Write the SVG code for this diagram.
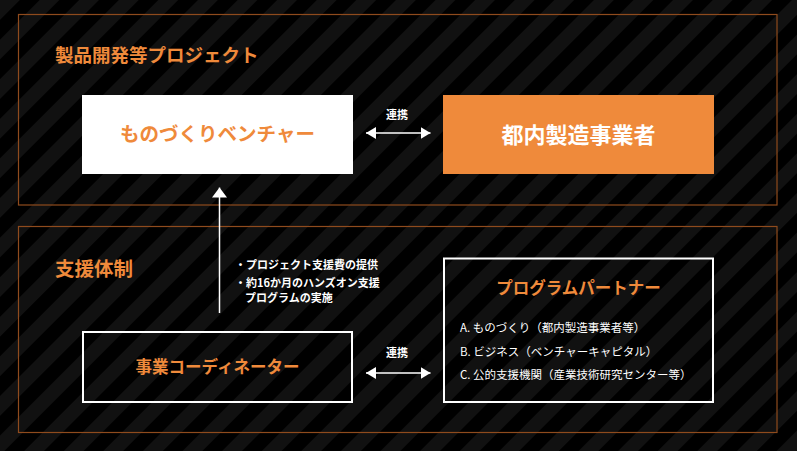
<svg xmlns="http://www.w3.org/2000/svg" width="797" height="451" viewBox="0 0 797 451">
<defs>
<pattern id="stripes" patternUnits="userSpaceOnUse" width="28" height="28" patternTransform="rotate(45)">
<rect x="0" y="0" width="14" height="28" fill="#111"/>
</pattern>
<marker id="ah" viewBox="0 0 10 12" refX="10" refY="6" markerWidth="10" markerHeight="12" markerUnits="userSpaceOnUse" orient="auto-start-reverse">
<path d="M0,0 L10,6 L0,12 Z" fill="#fff"/>
</marker>
<marker id="ahv" viewBox="0 0 10 15" refX="10" refY="7.5" markerWidth="10" markerHeight="15" markerUnits="userSpaceOnUse" orient="auto">
<path d="M0,0 L10,7.5 L0,15 Z" fill="#fff"/>
</marker>
</defs>
<style>
text{font-family:"Noto Sans CJK JP","Noto Sans",sans-serif;font-weight:700}
.frame{fill:none;stroke:#8f4b1d;stroke-width:1.2}
.og{fill:#ef8a3b}
.wt{fill:#fff}
.line{stroke:#fff;stroke-width:1.5;fill:none}
.box{fill:none;stroke:#fff;stroke-width:2}
.list{font-family:"Noto Sans CJK JP","Noto Sans",sans-serif;font-weight:400;font-size:11.5px;fill:#fff}
</style>
<rect width="797" height="451" fill="#000"/>
<rect width="797" height="451" fill="url(#stripes)"/>
<g id="frame-project">
<rect class="frame" x="18.5" y="14.5" width="758.5" height="190.5"/>
<text class="og" x="55" y="62" font-size="18.5">製品開発等プロジェクト</text>
</g>
<g id="frame-support">
<rect class="frame" x="18.5" y="226.5" width="758.5" height="206"/>
<text class="og" x="55" y="276" font-size="19.5">支援体制</text>
</g>
<g id="node-venture">
<rect x="82" y="95" width="271" height="79" fill="#fff"/>
<text class="og" x="217.5" y="141" font-size="19.5" text-anchor="middle">ものづくりベンチャー</text>
</g>
<g id="node-manufacturer">
<rect x="443" y="95" width="271" height="79" fill="#ef8a3b"/>
<text class="wt" x="578.5" y="142.5" font-size="22" text-anchor="middle">都内製造事業者</text>
</g>
<g id="node-coordinator">
<rect class="box" x="83" y="332" width="269" height="70"/>
<text class="og" x="217.5" y="372.5" font-size="16.5" text-anchor="middle">事業コーディネーター</text>
</g>
<g id="node-partner">
<rect class="box" x="444" y="258.5" width="269" height="143.5"/>
<text class="og" x="578.5" y="294" font-size="16.5" text-anchor="middle">プログラムパートナー</text>
<text class="list" x="460" y="332">A. ものづくり（都内製造事業者等）</text>
<text class="list" x="460" y="355.5">B. ビジネス（ベンチャーキャピタル）</text>
<text class="list" x="460" y="379">C. 公的支援機関（産業技術研究センター等）</text>
</g>
<g id="connectors">
<line class="line" x1="366" y1="133" x2="430.5" y2="133" marker-start="url(#ah)" marker-end="url(#ah)"/>
<text class="wt" x="397" y="119" font-size="11" text-anchor="middle">連携</text>
<line class="line" x1="366" y1="373" x2="430.5" y2="373" marker-start="url(#ah)" marker-end="url(#ah)"/>
<text class="wt" x="397" y="357" font-size="11" text-anchor="middle">連携</text>
<line class="line" x1="219.5" y1="313" x2="219.5" y2="187.5" marker-end="url(#ahv)"/>
<text class="wt" x="235" y="269" font-size="11">・プロジェクト支援費の提供</text>
<text class="wt" x="235" y="287" font-size="11">・約16か月のハンズオン支援</text>
<text class="wt" x="245" y="302" font-size="11">プログラムの実施</text>
</g>
</svg>
